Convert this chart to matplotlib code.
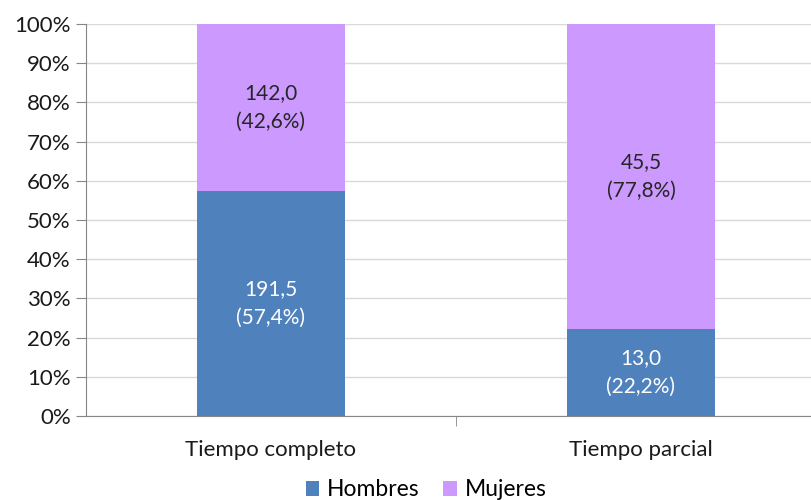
import matplotlib.pyplot as plt
from matplotlib.ticker import PercentFormatter

plt.rcParams['font.family'] = ['Lato', 'DejaVu Sans']

categorias = ['Tiempo completo', 'Tiempo parcial']
hombres = [191.5, 13.0]
mujeres = [142.0, 45.5]

total = [h + m for h, m in zip(hombres, mujeres)]
pct_h = [h / t * 100 for h, t in zip(hombres, total)]
pct_m = [m / t * 100 for m, t in zip(mujeres, total)]

fig = plt.figure(figsize=(8.12, 5), dpi=100)
ax = fig.add_axes([86 / 812, 84 / 500, 740 / 812, 392 / 500])

x = range(len(categorias))
ax.bar(x, pct_h, width=0.4, color='#4F81BD', label='Hombres', zorder=3)
ax.bar(x, pct_m, width=0.4, bottom=pct_h, color='#CC99FF', label='Mujeres', zorder=3)

for i in x:
    ax.text(i, pct_h[i] / 2, '%s\n(%s%%)' % (f'{hombres[i]:.1f}'.replace('.', ','),
            f'{pct_h[i]:.1f}'.replace('.', ',')),
            ha='center', va='center', color='white', fontsize=15, linespacing=1.6, zorder=4)
    ax.text(i, pct_h[i] + pct_m[i] / 2, '%s\n(%s%%)' % (f'{mujeres[i]:.1f}'.replace('.', ','),
            f'{pct_m[i]:.1f}'.replace('.', ',')),
            ha='center', va='center', color='#262626', fontsize=15, linespacing=1.6, zorder=4)

ax.set_xlim(-0.5, 1.5)
ax.set_ylim(0, 100)
ax.set_yticks(range(0, 101, 10))
ax.yaxis.set_major_formatter(PercentFormatter(decimals=0))
ax.grid(axis='y', color='#D9D9D9', linewidth=1, zorder=0)

ax.set_xticks([0.5], minor=True)
ax.set_xticks(list(x))
ax.set_xticklabels(categorias)
ax.tick_params(axis='x', which='major', length=0, pad=17, labelsize=16, labelcolor='#1a1a1a')
ax.tick_params(axis='x', which='minor', length=7, color='#868686', direction='out')
ax.tick_params(axis='y', length=7, color='#868686', labelsize=16, labelcolor='#1a1a1a', pad=4)

for s in ['top', 'right']:
    ax.spines[s].set_visible(False)
for s in ['left', 'bottom']:
    ax.spines[s].set_color('#868686')

fig.legend(*ax.get_legend_handles_labels(), loc='center', bbox_to_anchor=(426 / 812, 10 / 500),
           ncol=2, frameon=False, fontsize=16.5, handlelength=0.6, handleheight=0.6,
           handletextpad=0.35, columnspacing=1.0, borderpad=0)

fig.savefig('out.png', dpi=100)
